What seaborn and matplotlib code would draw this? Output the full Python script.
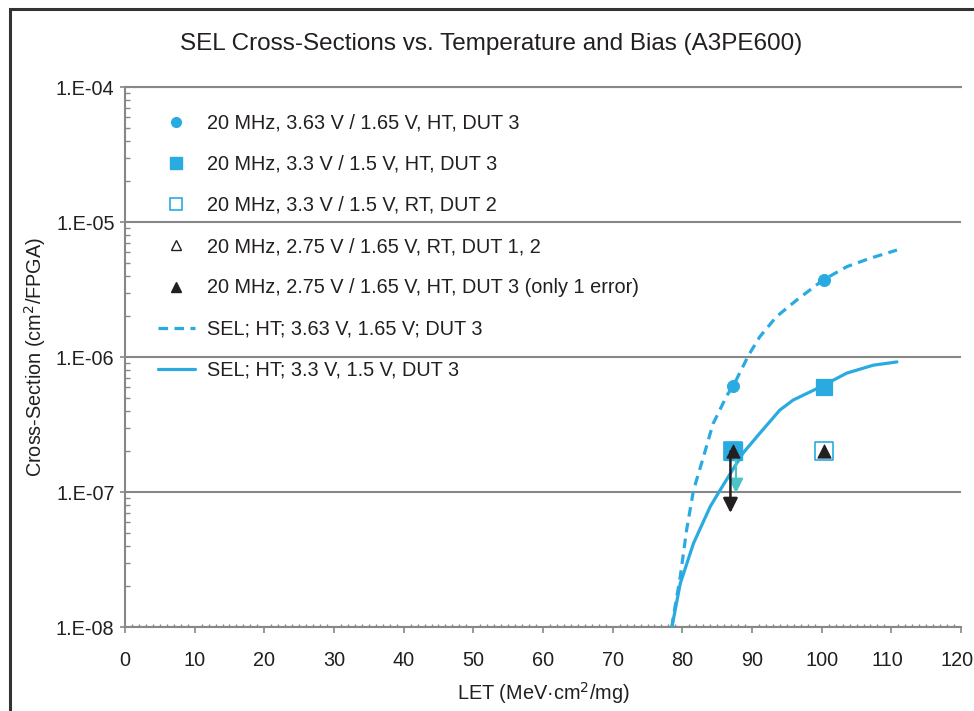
import numpy as np
import pandas as pd
import matplotlib
matplotlib.use("Agg")
import matplotlib.pyplot as plt
import matplotlib.transforms as mtransforms
from matplotlib.lines import Line2D
from matplotlib.patches import Rectangle
from matplotlib.ticker import FuncFormatter, LogLocator, MultipleLocator
import seaborn as sns

# --- data ---
let_pts = [87.3, 100.3]
sel_363_ht = [6.1e-7, 3.7e-6]      # filled circles
sel_33_ht = [2.0e-7, 6.0e-7]       # filled squares
sel_33_rt = [2.0e-7, 2.0e-7]       # open squares
sel_275_ht = [2.0e-7, 2.0e-7]      # filled triangles

dash_let = [78.5, 78.7, 79.7, 80.6, 81.6, 83.0, 84.4, 86.4, 87.3, 89.5, 91.1, 93.5,
            96.4, 100.2, 103.6, 106.9, 110.8]
dash_sig = [1.0e-8, 1.19e-8, 2.36e-8, 5.2e-8, 1.03e-7, 1.8e-7, 3.2e-7, 5.2e-7, 6.1e-7,
            1.03e-6, 1.41e-6, 1.99e-6, 2.64e-6, 3.72e-6, 4.67e-6, 5.38e-6, 6.2e-6]

solid_let = [78.5, 78.7, 79.7, 81.6, 84.0, 85.4, 88.7, 91.1, 94.0, 95.9, 99.8, 103.6,
             107.4, 110.8]
solid_sig = [1.0e-8, 1.13e-8, 2.1e-8, 4.17e-8, 7.8e-8, 1.03e-7, 1.94e-7, 2.72e-7,
             4.05e-7, 4.8e-7, 6.0e-7, 7.6e-7, 8.7e-7, 9.2e-7]

labels = ["20 MHz, 3.63 V / 1.65 V, HT, DUT 3",
          "20 MHz, 3.3 V / 1.5 V, HT, DUT 3",
          "20 MHz, 3.3 V / 1.5 V, RT, DUT 2",
          "20 MHz, 2.75 V / 1.65 V, RT, DUT 1, 2",
          "20 MHz, 2.75 V / 1.65 V, HT, DUT 3 (only 1 error)",
          "SEL; HT; 3.63 V, 1.65 V; DUT 3",
          "SEL; HT; 3.3 V, 1.5 V, DUT 3"]

blue = "#29abe2"
teal = "#4cc4c6"
grid_c = "#878787"
txt_c = "#231f20"

sns.set_style("white")
plt.rcParams['font.family'] = ['Liberation Sans', 'DejaVu Sans']

fig = plt.figure(figsize=(9.74, 7.11), dpi=100)
ax = fig.add_axes([0.1283, 0.1181, 0.8584, 0.7595])

dash_df = pd.DataFrame({"LET": dash_let, "sigma": dash_sig})
solid_df = pd.DataFrame({"LET": solid_let, "sigma": solid_sig})
sns.lineplot(data=dash_df, x="LET", y="sigma", ax=ax, color=blue, lw=2.3,
             linestyle=(0, (3, 2)), sort=False, zorder=3)
sns.lineplot(data=solid_df, x="LET", y="sigma", ax=ax, color=blue, lw=2.3,
             sort=False, zorder=3)

sns.scatterplot(x=let_pts, y=sel_363_ht, ax=ax, marker="o", s=75, color=blue,
                edgecolor=blue, zorder=5)
sns.scatterplot(x=let_pts, y=sel_33_rt, ax=ax, marker="s", s=150, facecolor="white",
                edgecolor=blue, linewidth=1.2, zorder=4)
sns.scatterplot(x=let_pts[:1], y=sel_33_ht[:1], ax=ax, marker="s", s=150, color=blue,
                edgecolor=blue, zorder=5)
sns.scatterplot(x=let_pts[1:], y=sel_33_ht[1:], ax=ax, marker="s", s=130, color=blue,
                edgecolor=blue, zorder=5)

# arrows (upper-limit markers)
ax.annotate("", xy=(87.7, 9.8e-8), xytext=(87.7, 1.8e-7),
            arrowprops=dict(arrowstyle="-|>", color=teal, lw=1.5,
                            mutation_scale=22, shrinkA=0, shrinkB=0), zorder=6)
ax.annotate("", xy=(86.9, 7.0e-8), xytext=(86.9, 2.0e-7),
            arrowprops=dict(arrowstyle="-|>", color=txt_c, lw=1.8,
                            mutation_scale=22, shrinkA=0, shrinkB=0), zorder=7)
sns.scatterplot(x=let_pts, y=sel_275_ht, ax=ax, marker="^", s=90, color=txt_c,
                edgecolor=txt_c, zorder=8)

ax.set_yscale("log")
ax.set_xlim(0, 120)
ax.set_ylim(1e-8, 1e-4)

ax.xaxis.set_major_locator(MultipleLocator(10))
ax.xaxis.set_minor_locator(MultipleLocator(1))
ax.yaxis.set_major_locator(LogLocator(base=10, numticks=10))
ax.yaxis.set_minor_locator(LogLocator(base=10, subs=np.arange(2, 10), numticks=20))
ax.yaxis.set_major_formatter(FuncFormatter(lambda v, p: "1.E-%02d" % round(-np.log10(v))))

ax.tick_params(which="both", bottom=True, left=True, color=grid_c)
ax.tick_params(axis="x", which="major", direction="out", length=4.5, width=1.2,
               labelsize=14.3, labelcolor=txt_c, pad=13)
ax.tick_params(axis="x", which="minor", direction="in", length=2.5, width=1)
ax.tick_params(axis="y", which="major", direction="inout", length=7, width=1.2,
               labelsize=14.3, labelcolor=txt_c, pad=4)
ax.tick_params(axis="y", which="minor", direction="in", length=3.5, width=1)

ax.grid(True, which="major", axis="y", color=grid_c, lw=1.5)
for side in ["left", "bottom", "top"]:
    ax.spines[side].set_color(grid_c)
    ax.spines[side].set_linewidth(1.5)
ax.spines["right"].set_visible(False)

ax.set_xlabel("LET (MeV·cm$^2$/mg)", fontsize=14.3, color=txt_c, labelpad=7)
ax.set_ylabel("Cross-Section (cm$^2$/FPGA)", fontsize=14.3, color=txt_c, labelpad=6)
fig.text(0.5046, 0.938, "SEL Cross-Sections vs. Temperature and Bias (A3PE600)",
         ha="center", va="center", fontsize=17.5, color=txt_c)

# the last two x labels sit a little left of their ticks in the original
fig.canvas.draw()
shift = mtransforms.ScaledTranslation(-4 / 100, 0, fig.dpi_scale_trans)
for lbl in ax.get_xticklabels():
    if lbl.get_text() in ("110", "120"):
        lbl.set_transform(lbl.get_transform() + shift)

handles = [
    Line2D([], [], ls="none", marker="o", ms=7, color=blue),
    Line2D([], [], ls="none", marker="s", ms=9, color=blue),
    Line2D([], [], ls="none", marker="s", ms=8, mfc="white", mec=blue, mew=1.2),
    Line2D([], [], ls="none", marker="^", ms=7, mfc="white", mec=txt_c, mew=1),
    Line2D([], [], ls="none", marker="^", ms=7, color=txt_c),
    Line2D([], [], color=blue, lw=2.3, ls=(0, (3, 2))),
    Line2D([], [], color=blue, lw=2.3),
]
ax.legend(handles, labels, loc="upper left", bbox_to_anchor=(0.0395, 0.951),
          frameon=False, fontsize=14.3, labelspacing=1.12, handlelength=1.85,
          handletextpad=0.6, borderpad=0, borderaxespad=0, labelcolor=txt_c)

# outer frame
fig.add_artist(Rectangle((10 / 974, -0.1), 1.2, 1.1 - 9 / 711, transform=fig.transFigure,
                         fill=False, edgecolor="#333333", lw=2.2))

fig.savefig("out.png", dpi=100)
